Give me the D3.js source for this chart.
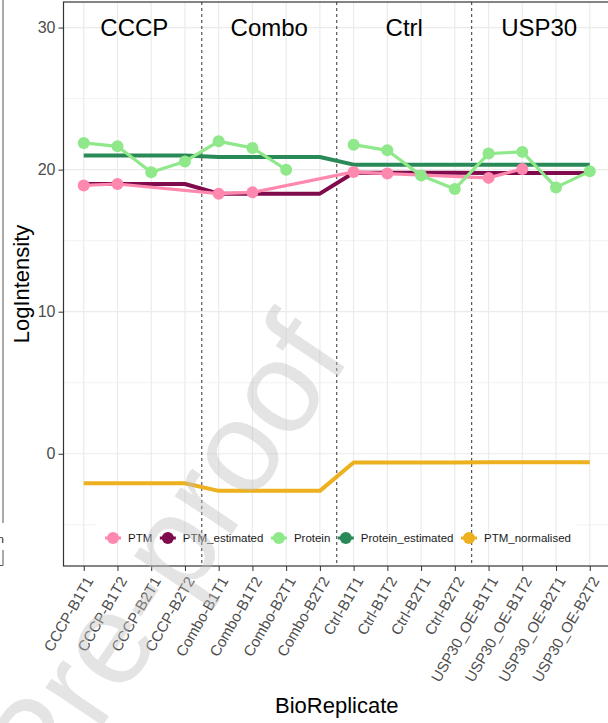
<!DOCTYPE html>
<html>
<head>
<meta charset="utf-8">
<script src="https://cdn.jsdelivr.net/npm/d3@7"></script>
<style>
  body { margin: 0; background: #fff; }
  svg { display: block; font-family: "Liberation Sans", Arial, sans-serif; }
</style>
</head>
<body>
<div class="chart"></div>
<script>
var width = 608;
var height = 723;

// BioReplicates on the x axis, 4 per condition
var bio_reps = [
  "CCCP-B1T1", "CCCP-B1T2", "CCCP-B2T1", "CCCP-B2T2",
  "Combo-B1T1", "Combo-B1T2", "Combo-B2T1", "Combo-B2T2",
  "Ctrl-B1T1", "Ctrl-B1T2", "Ctrl-B2T1", "Ctrl-B2T2",
  "USP30_OE-B1T1", "USP30_OE-B1T2", "USP30_OE-B2T1", "USP30_OE-B2T2"
];
var conditions = ["CCCP", "Combo", "Ctrl", "USP30"];

// observed PTM only exists for some runs
var ptm_reps = ["CCCP-B1T1", "CCCP-B1T2", "Combo-B1T1", "Combo-B1T2",
                "Ctrl-B1T1", "Ctrl-B1T2", "USP30_OE-B1T1", "USP30_OE-B1T2"];
var ptm_values = [18.89, 18.99, 18.31, 18.40, 19.84, 19.72, 19.42, 20.05];

// protein, null = missing run (line breaks there)
var protein_values = [21.88, 21.64, 19.81, 20.58,
                      21.99, 21.53, 20.00, null,
                      21.76, 21.36, 19.58, 18.64,
                      21.13, 21.25, 18.75, 19.88];

// per-condition model estimates
var ptm_estimated = [18.99, 18.31, 19.78, 19.76];
var protein_estimated = [20.99, 20.89, 20.35, 20.34];
var ptm_normalised = [-2.07, -2.61, -0.61, -0.59];

var y_ticks = [0, 10, 20, 30];
var y_minor = [-5, 5, 15, 25];

var series_names = ["PTM", "PTM_estimated", "Protein", "Protein_estimated", "PTM_normalised"];
var series_colors = ["#FF88AE", "#7F0A4C", "#8FE88A", "#2A8A57", "#EDB01E"];

var panel = {left: 63.5, right: 610, top: 2, bottom: 566};

var svg = d3.select(".chart")
  .append("svg")
  .attr("width", width)
  .attr("height", height);

var color = d3.scaleOrdinal().domain(series_names).range(series_colors);

var x = d3.scalePoint()
  .domain(bio_reps)
  .range([panel.left, panel.right])
  .padding(0.6);

var y = d3.scaleLinear()
  .domain([-7.9, 31.8])
  .range([panel.bottom, panel.top]);

// bit of the neighbouring figure panel on the far left
svg.append("line").attr("x1", 3).attr("x2", 3).attr("y1", 0).attr("y2", 523)
  .attr("stroke", "#555").attr("stroke-width", 1);
svg.append("path").attr("d", "M3,550V565.5H0")
  .attr("fill", "none").attr("stroke", "#555").attr("stroke-width", 1);
svg.append("text").attr("x", 4).attr("y", 543).attr("text-anchor", "end")
  .attr("font-size", "11.5px").attr("fill", "#222").text("n");

var plot = svg.append("g");
var clip = svg.append("clipPath").attr("id", "panel-clip")
  .append("rect")
  .attr("x", panel.left).attr("y", panel.top)
  .attr("width", panel.right - panel.left).attr("height", panel.bottom - panel.top);

// legend box blanks the minor grid line behind it
var legend_box = {x0: 96, x1: 577};

// grid
var grid = plot.append("g").attr("clip-path", "url(#panel-clip)");
y_minor.forEach(function(v){
  if (v == -5) {
    grid.append("line").attr("x1", panel.left).attr("x2", legend_box.x0)
      .attr("y1", y(v)).attr("y2", y(v)).attr("stroke", "#F2F2F2").attr("stroke-width", 1);
    grid.append("line").attr("x1", legend_box.x1).attr("x2", panel.right)
      .attr("y1", y(v)).attr("y2", y(v)).attr("stroke", "#F2F2F2").attr("stroke-width", 1);
  } else {
    grid.append("line").attr("x1", panel.left).attr("x2", panel.right)
      .attr("y1", y(v)).attr("y2", y(v)).attr("stroke", "#F2F2F2").attr("stroke-width", 1);
  }
});
y_ticks.forEach(function(v){
  grid.append("line").attr("x1", panel.left).attr("x2", panel.right)
    .attr("y1", y(v)).attr("y2", y(v)).attr("stroke", "#EBEBEB").attr("stroke-width", 1.2);
});
bio_reps.forEach(function(r){
  grid.append("line").attr("x1", x(r)).attr("x2", x(r))
    .attr("y1", panel.top).attr("y2", panel.bottom).attr("stroke", "#EBEBEB").attr("stroke-width", 1.2);
});

// condition boundaries
var bounds = [];
for (var i = 1; i < conditions.length; i++) {
  bounds.push((x(bio_reps[i*4 - 1]) + x(bio_reps[i*4])) / 2);
}
grid.selectAll(".vsep")
  .data(bounds)
  .enter()
  .append("line")
  .attr("class", "vsep")
  .attr("x1", d => d).attr("x2", d => d)
  .attr("y1", panel.top).attr("y2", panel.bottom)
  .attr("stroke", "#333").attr("stroke-width", 1)
  .attr("stroke-dasharray", "3,3");

// condition labels
plot.selectAll(".cond")
  .data(conditions)
  .enter()
  .append("text")
  .attr("class", "cond")
  .attr("x", (d, i) => (x(bio_reps[i*4]) + x(bio_reps[i*4 + 3])) / 2)
  .attr("y", y(30))
  .attr("dy", "0.36em")
  .attr("text-anchor", "middle")
  .attr("font-size", "24px")
  .attr("fill", "#000")
  .text(d => d);

// per-condition estimate lines (flat within each condition)
function perCondition(vals) {
  return bio_reps.map(function(r, i){ return {rep: r, v: vals[Math.floor(i / 4)]}; });
}
var line = d3.line()
  .defined(d => d.v != null)
  .x(d => x(d.rep))
  .y(d => y(d.v));

var lines = plot.append("g").attr("clip-path", "url(#panel-clip)");

[["PTM_estimated", ptm_estimated], ["Protein_estimated", protein_estimated], ["PTM_normalised", ptm_normalised]]
  .forEach(function(s){
    lines.append("path")
      .datum(perCondition(s[1]))
      .attr("d", line)
      .attr("fill", "none")
      .attr("stroke", color(s[0]))
      .attr("stroke-width", 4)
      .attr("stroke-linejoin", "round");
  });

var ptm_data = ptm_reps.map((r, i) => ({rep: r, v: ptm_values[i]}));
var protein_data = bio_reps.map((r, i) => ({rep: r, v: protein_values[i]}));

[["PTM", ptm_data], ["Protein", protein_data]].forEach(function(s){
  lines.append("path")
    .datum(s[1])
    .attr("d", line)
    .attr("fill", "none")
    .attr("stroke", color(s[0]))
    .attr("stroke-width", 3.2)
    .attr("stroke-linejoin", "round");
  lines.selectAll(".pt-" + s[0])
    .data(s[1].filter(d => d.v != null))
    .enter()
    .append("circle")
    .attr("class", "pt-" + s[0])
    .attr("cx", d => x(d.rep))
    .attr("cy", d => y(d.v))
    .attr("r", 6)
    .attr("fill", color(s[0]));
});

// legend
var legend = plot.append("g").attr("transform", "translate(0," + 538 + ")");
var lx = 0;
series_names.forEach(function(name){
  var g = legend.append("g").attr("transform", "translate(" + lx + ",0)");
  g.append("line").attr("x1", 0.5).attr("x2", 16.5).attr("y1", 0).attr("y2", 0)
    .attr("stroke", color(name)).attr("stroke-width", 3);
  g.append("circle").attr("cx", 8.5).attr("cy", 0).attr("r", 6).attr("fill", color(name));
  var t = g.append("text").attr("x", 23.5).attr("y", 0).attr("dy", "0.35em")
    .attr("font-size", "11.5px").attr("fill", "#1a1a1a").text(name);
  lx += 23.5 + t.node().getComputedTextLength() + 7;
});
var legend_w = lx - 7;
legend.attr("transform", "translate(" + ((panel.left + panel.right) / 2 - legend_w / 2 + 1) + ",538)");

// axes
var yAxis = plot.append("g")
  .attr("transform", "translate(" + panel.left + ",0)")
  .call(d3.axisLeft(y).tickValues(y_ticks).tickSize(5).tickPadding(3));
yAxis.select(".domain").remove();
yAxis.selectAll("line").attr("stroke", "#333");
yAxis.selectAll("text").attr("font-size", "16px").attr("fill", "#4D4D4D")
  .attr("font-family", "'Liberation Sans', Arial, sans-serif");

var xAxis = plot.append("g")
  .attr("transform", "translate(0," + panel.bottom + ")")
  .call(d3.axisBottom(x).tickSize(5));
xAxis.select(".domain").remove();
xAxis.selectAll("line").attr("stroke", "#333");
xAxis.selectAll("text")
  .attr("font-size", "15px")
  .attr("fill", "#4D4D4D")
  .attr("font-family", "'Liberation Sans', Arial, sans-serif")
  .attr("text-anchor", "end")
  .attr("dy", null)
  .attr("y", 0)
  .attr("dominant-baseline", "hanging")
  .attr("transform", "translate(0,9) rotate(-60)");

// panel border
plot.append("rect")
  .attr("x", panel.left).attr("y", panel.top)
  .attr("width", panel.right - panel.left).attr("height", panel.bottom - panel.top)
  .attr("fill", "none").attr("stroke", "#333").attr("stroke-width", 1.2);

// axis titles
svg.append("text")
  .attr("transform", "translate(29," + ((panel.top + panel.bottom) / 2) + ") rotate(-90)")
  .attr("text-anchor", "middle")
  .attr("font-size", "22px")
  .attr("fill", "#000")
  .text("LogIntensity");
svg.append("text")
  .attr("x", (panel.left + panel.right) / 2)
  .attr("y", 713)
  .attr("text-anchor", "middle")
  .attr("font-size", "22px")
  .attr("fill", "#000")
  .text("BioReplicate");

// journal watermark
svg.append("text")
  .attr("transform", "translate(352,356) rotate(-56)")
  .attr("text-anchor", "end")
  .attr("font-size", "130px")
  .attr("fill", "#BFBFBF")
  .attr("fill-opacity", 0.42)
  .text("Journal Pre-proof");
</script>
</body>
</html>
